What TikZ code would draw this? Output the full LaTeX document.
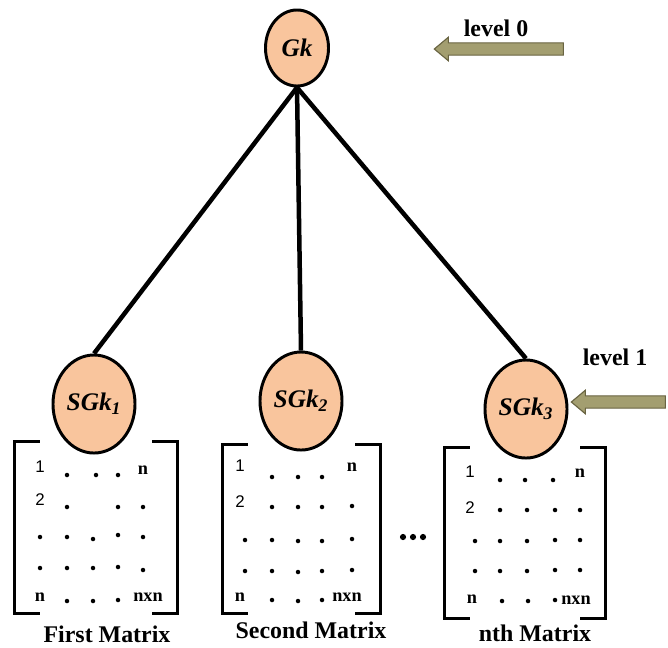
\documentclass[tikz,border=0pt]{standalone}
\usepackage{fontspec}
\setmainfont{Liberation Serif}
\newfontfamily\arialfont{Liberation Sans}
\usetikzlibrary{shapes.geometric,shapes.arrows}
\definecolor{peach}{RGB}{249,197,157}
\definecolor{khaki}{RGB}{163,158,112}
\definecolor{khakidark}{RGB}{105,100,66}
\tikzset{
  gnode/.style={ellipse, draw=black, line width=2.1pt, fill=peach, inner sep=0pt, font=\fontsize{18}{18}\selectfont\bfseries\itshape},
  link/.style={line width=3.2pt},
  matbox/.style={rectangle, inner sep=0pt},
  bracket/.style={line width=2.3pt},
  num/.style={inner sep=0pt, font=\fontsize{12}{12}\selectfont\arialfont},
  ltr/.style={inner sep=0pt, font=\fontsize{13}{13}\selectfont\bfseries},
  caption/.style={inner sep=0pt, font=\fontsize{17}{17}\selectfont\bfseries},
  levelarrow/.style={single arrow, draw=khakidark, fill=khaki, line width=0.8pt, inner xsep=0pt, inner ysep=0.14cm, single arrow head extend=0.14cm, single arrow tip angle=80, shape border rotate=180}
}
\begin{document}
\begin{tikzpicture}[x=0.025cm, y=-0.025cm]
\useasboundingbox (0,0) rectangle (668,647);

\node[matbox, minimum width=4.05cm, minimum height=4.275cm] (B1) at (96,527.5) {};
\node[matbox, minimum width=3.925cm, minimum height=4.2cm] (B2) at (301.5,529) {};
\node[matbox, minimum width=4cm, minimum height=4.25cm] (B3) at (525,533) {};
\foreach \b in {B1,B2,B3}{
  \draw[bracket] (\b.north west) ++(25,0) -- (\b.north west) -- (\b.south west) -- ++(25,0);
  \draw[bracket] (\b.north east) ++(-25,0) -- (\b.north east) -- (\b.south east) -- ++(-25,0);
}

\node[gnode, minimum width=1.575cm, minimum height=1.9cm] (Gk) at (297,48) {Gk};
\node[gnode, minimum width=2.05cm, minimum height=2.45cm] (SG1) at (94,404) {SGk\textsubscript{1}};
\node[gnode, minimum width=2.05cm, minimum height=2.45cm] (SG2) at (301,401) {SGk\textsubscript{2}};
\node[gnode, minimum width=2.05cm, minimum height=2.45cm] (SG3) at (526,409) {SGk\textsubscript{3}};
\draw[link] (Gk.south) -- (SG1.north);
\draw[link] (Gk.south) -- (SG2.north);
\draw[link] (Gk.south) -- (SG3.north);

\node[caption] (lv0) at (496,28) {level 0};
\node[levelarrow, minimum height=3.225cm] (ar0) at (502.5,49) {};
\node[caption] (lv1) at (615,357) {level 1};
\node[levelarrow, minimum height=2.35cm] (ar1) at (622,402) {};

\node[num] (m1r1) at (40,467) {1};
\node[num] (m1r2) at (40,500) {2};
\node[ltr] (m1c5) at (143,470) {n};
\node[ltr] (m1r5) at (40,597) {n};
\node[ltr] (m1nn) at (148,597) {nxn};
\foreach \x/\y in {67/475,96/475,118/475, 67/507,118/507,143/507,
  40/537,67/537,93/539,118/535,143/537, 40/568,67/568,93/568,118/567,143/570,
  67/601,93/601,118/600}
  \fill (\x,\y) circle (1.6pt);

\node[num] (m2r1) at (240,466) {1};
\node[num] (m2r2) at (240,502) {2};
\node[ltr] (m2c5) at (352,467) {n};
\node[ltr] (m2r5) at (240,597) {n};
\node[ltr] (m2nn) at (347,597) {nxn};
\foreach \x/\y in {272/477,298/477,322/477, 272/507,298/507,322/507,352/506,
  245/540,272/540,298/541,322/541,352/539, 245/571,272/571,298/572,322/571,352/570,
  272/600,298/601,322/600}
  \fill (\x,\y) circle (1.6pt);

\node[num] (m3r1) at (470,472) {1};
\node[num] (m3r2) at (470,508) {2};
\node[ltr] (m3c5) at (580,473) {n};
\node[ltr] (m3r5) at (472,599) {n};
\node[ltr] (m3nn) at (576,600) {nxn};
\foreach \x/\y in {500/480,525/480,553/480, 500/510,527/510,555/510,580/510,
  475/541,500/541,527/541,555/540,580/540, 475/571,500/571,527/571,555/570,580/570,
  502/601,528/601,555/600}
  \fill (\x,\y) circle (1.6pt);

\foreach \x in {403,413,423}
  \fill (\x,537) circle (2.2pt);

\node[caption] (t1) at (107,634) {First Matrix};
\node[caption] (t2) at (311,630) {Second Matrix};
\node[caption] (t3) at (535,633) {nth Matrix};
\end{tikzpicture}
\end{document}
